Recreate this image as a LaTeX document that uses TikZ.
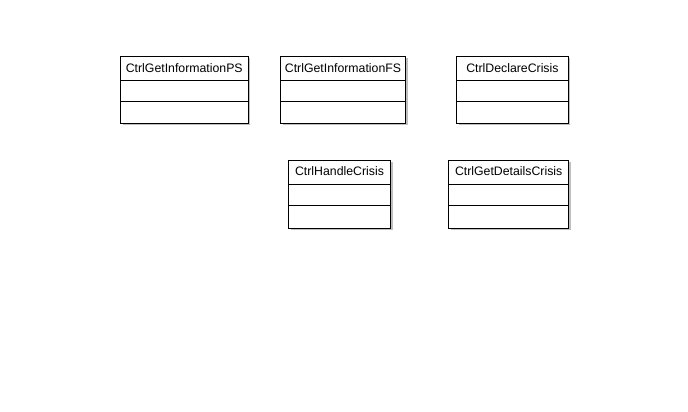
\documentclass[tikz,border=0pt]{standalone}
\usepackage{fontspec}
\setmainfont{Liberation Sans}
\begin{document}
\begin{tikzpicture}[x=1pt,y=-1pt,
  shade/.style={fill=black!25,draw=none},
  boxline/.style={draw=black,line width=0.9pt},
  lbl/.style={font=\fontsize{12.3}{14}\selectfont,inner sep=0pt,anchor=center}]
\useasboundingbox (0,0) rectangle (688,412);
\newcommand{\umlbox}[7]{%
  \fill[shade] (#2+2,#3+2) rectangle (#4+2,#7+2);
  \fill[white] (#2,#3) rectangle (#4,#7);
  \draw[boxline] (#2,#3) rectangle (#4,#7);
  \draw[boxline] (#2,#5) -- (#4,#5);
  \draw[boxline] (#2,#6) -- (#4,#6);
  \coordinate (#1-c) at ({(#2+#4)/2},{(#3+#5)/2-0.5});
}
\umlbox{ps}{120.5}{56}{248}{80.7}{101.7}{123.3}
\node[lbl] (psn) at (ps-c) {CtrlGetInformationPS};
\umlbox{fs}{280.5}{56}{405.5}{80.7}{101.7}{123.3}
\node[lbl] (fsn) at (fs-c) {CtrlGetInformationFS};
\umlbox{dc}{456.5}{56}{568.3}{80.7}{101.7}{123.3}
\node[lbl] (dcn) at (dc-c) {CtrlDeclareCrisis};
\umlbox{hc}{288.5}{160}{390.5}{184}{205.7}{228.3}
\node[lbl] (hcn) at (hc-c) {CtrlHandleCrisis};
\umlbox{gd}{448.5}{160}{568.8}{184}{205.7}{228.3}
\node[lbl] (gdn) at (gd-c) {CtrlGetDetailsCrisis};
\end{tikzpicture}
\end{document}
